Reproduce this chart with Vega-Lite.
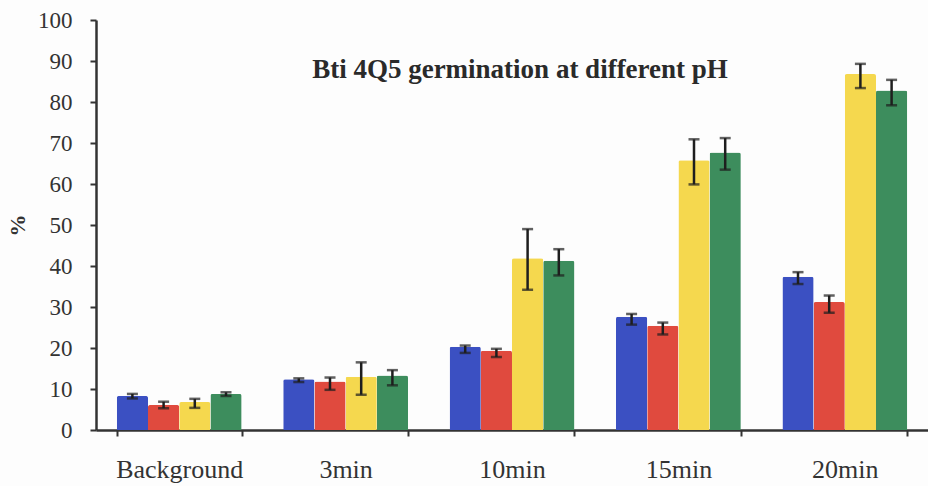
{
  "$schema": "https://vega.github.io/schema/vega-lite/v6.json",
  "autosize": "none",
  "width": 832,
  "height": 410,
  "padding": {"left": 96, "top": 20, "right": 0, "bottom": 56},
  "background": "#fdfdfd",
  "title": {
    "text": "Bti 4Q5 germination at different pH",
    "font": "Liberation Serif",
    "fontSize": 27,
    "fontWeight": "bold",
    "color": "#2a2a2a",
    "orient": "top",
    "anchor": "middle",
    "offset": -75,
    "dx": 8
  },
  "config": {
    "view": {"stroke": null},
    "font": "Liberation Serif"
  },
  "data": {
    "values": [
      {"time": "Background", "ph": "A", "mean": 8.3, "lo": 7.7, "hi": 8.8},
      {"time": "Background", "ph": "B", "mean": 6.1, "lo": 5.3, "hi": 6.9},
      {"time": "Background", "ph": "C", "mean": 6.8, "lo": 5.4, "hi": 7.6},
      {"time": "Background", "ph": "D", "mean": 8.8, "lo": 8.3, "hi": 9.2},
      {"time": "3min", "ph": "A", "mean": 12.4, "lo": 11.7, "hi": 12.6},
      {"time": "3min", "ph": "B", "mean": 11.8, "lo": 9.8, "hi": 12.8},
      {"time": "3min", "ph": "C", "mean": 13.0, "lo": 8.6, "hi": 16.5},
      {"time": "3min", "ph": "D", "mean": 13.3, "lo": 10.9, "hi": 14.6},
      {"time": "10min", "ph": "A", "mean": 20.3, "lo": 18.8, "hi": 20.6},
      {"time": "10min", "ph": "B", "mean": 19.3, "lo": 17.8, "hi": 19.8},
      {"time": "10min", "ph": "C", "mean": 41.9, "lo": 34.2, "hi": 49.0},
      {"time": "10min", "ph": "D", "mean": 41.3, "lo": 37.7, "hi": 44.1},
      {"time": "15min", "ph": "A", "mean": 27.6, "lo": 25.7, "hi": 28.3},
      {"time": "15min", "ph": "B", "mean": 25.4, "lo": 23.3, "hi": 26.2},
      {"time": "15min", "ph": "C", "mean": 65.8, "lo": 59.9, "hi": 70.9},
      {"time": "15min", "ph": "D", "mean": 67.7, "lo": 63.5, "hi": 71.2},
      {"time": "20min", "ph": "A", "mean": 37.4, "lo": 35.6, "hi": 38.5},
      {"time": "20min", "ph": "B", "mean": 31.2, "lo": 28.6, "hi": 32.8},
      {"time": "20min", "ph": "C", "mean": 86.8, "lo": 83.4, "hi": 89.3},
      {"time": "20min", "ph": "D", "mean": 82.8, "lo": 79.2, "hi": 85.4}
    ]
  },
  "encoding": {
    "x": {
      "field": "time",
      "type": "nominal",
      "sort": ["Background", "3min", "10min", "15min", "20min"],
      "scale": {"paddingInner": 0.25, "paddingOuter": 0.125},
      "axis": {
        "title": null,
        "labelAngle": 0,
        "labelFont": "Liberation Serif",
        "labelFontSize": 26,
        "labelColor": "#333333",
        "labelPadding": 20,
        "domainColor": "#333333",
        "domainWidth": 2.5,
        "tickBand": "extent",
        "tickColor": "#333333",
        "tickWidth": 2,
        "tickSize": 6
      }
    },
    "xOffset": {"field": "ph", "type": "nominal", "scale": {"paddingInner": 0, "paddingOuter": 0}}
  },
  "layer": [
    {
      "mark": {"type": "bar", "cornerRadiusTopLeft": 2, "cornerRadiusTopRight": 2},
      "encoding": {
        "y": {
          "field": "mean",
          "type": "quantitative",
          "scale": {"domain": [0, 100], "nice": false},
          "axis": {
            "title": "%",
            "titleFont": "Liberation Serif",
            "titleFontSize": 22,
            "titleFontWeight": "bold",
            "titleColor": "#333333",
            "titlePadding": 8,
            "values": [0, 10, 20, 30, 40, 50, 60, 70, 80, 90, 100],
            "grid": false,
            "labelFont": "Liberation Serif",
            "labelFontSize": 23,
            "labelColor": "#333333",
            "labelPadding": 18,
            "domainColor": "#333333",
            "domainWidth": 2.5,
            "tickColor": "#333333",
            "tickWidth": 2,
            "tickSize": 6
          }
        },
        "color": {
          "field": "ph",
          "type": "nominal",
          "scale": {"domain": ["A", "B", "C", "D"], "range": ["#3b50c2", "#e04a3e", "#f5d84e", "#3d8d5d"]},
          "legend": null
        }
      }
    },
    {
      "mark": {"type": "rule", "color": "#1e1e1e", "strokeWidth": 2.5},
      "encoding": {
        "y": {"field": "lo", "type": "quantitative"},
        "y2": {"field": "hi"}
      }
    },
    {
      "mark": {"type": "tick", "color": "#1e1e1e", "thickness": 2.5, "size": 11},
      "encoding": {"y": {"field": "lo", "type": "quantitative"}}
    },
    {
      "mark": {"type": "tick", "color": "#1e1e1e", "thickness": 2.5, "size": 11},
      "encoding": {"y": {"field": "hi", "type": "quantitative"}}
    }
  ]
}
